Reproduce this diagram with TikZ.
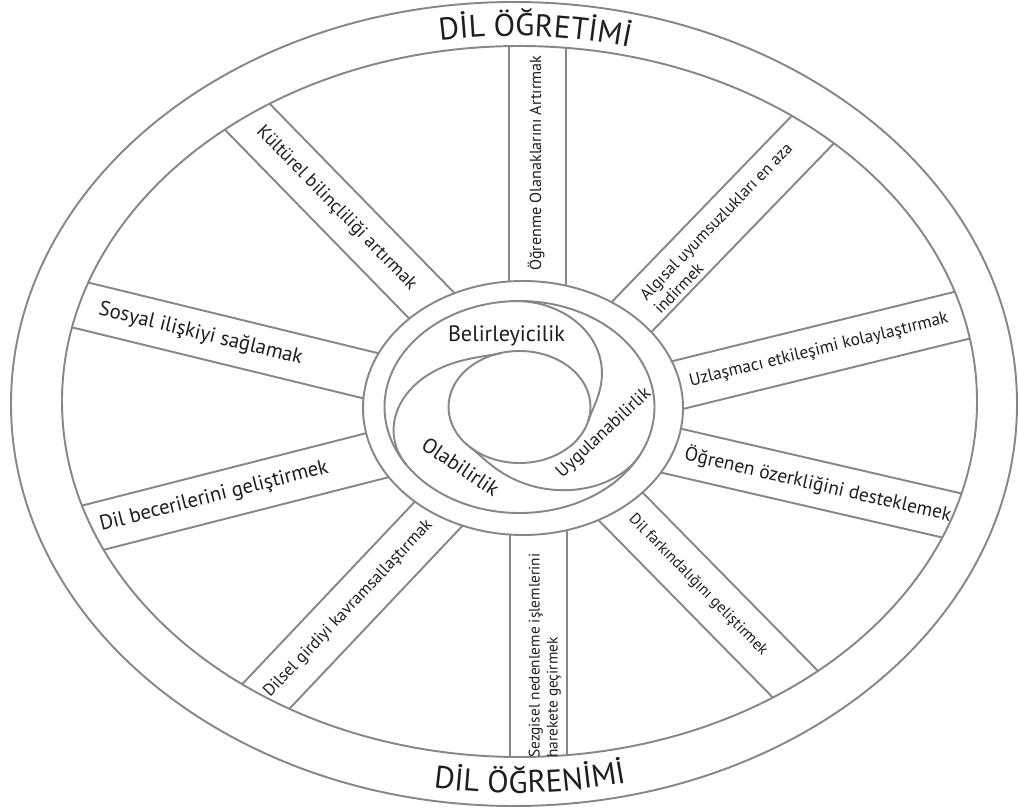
\documentclass[tikz,border=0pt]{standalone}
\usepackage{fontspec}
\setmainfont{PT Sans}
\usetikzlibrary{calc,decorations.text}
\definecolor{wheelgray}{RGB}{135,135,135}
\definecolor{ink}{RGB}{30,30,30}
\newcommand{\ttlfont}{\fontsize{23.5}{28}\selectfont}
\tikzset{
  wheel/.style={draw=wheelgray, line width=1.45pt},
  lbl/.style={inner sep=0pt, text=ink, font=\fontsize{11}{13}\selectfont},
  ttl/.style={decorate, decoration={text along path, text align=center, text color=ink}},
}
\newcommand{\spk}[4]{%
  \draw[wheel] ($(#1,#2)+({-(#3)+90}:#4)$) -- ++({-(#3)}:700);
  \draw[wheel] ($(#1,#2)+({-(#3)-90}:#4)$) -- ++({-(#3)}:700);
}
\begin{document}
\begin{tikzpicture}[x=0.75pt,y=-0.75pt]
\useasboundingbox (0,0) rectangle (1019,809);
% rim
\draw[wheel] (514,404) ellipse [x radius=503, y radius=402];
\draw[wheel] (519.5,401.5) ellipse [x radius=457.5, y radius=355.5];
% spokes
\begin{scope}
\clip (519.5,401.5) ellipse [x radius=457.5, y radius=355.5];
\spk{537.5}{416}{90}{28.5}
\spk{538.5}{416}{-90}{28.5}
\spk{537}{414.8}{45.96}{24.7}
\spk{537}{419.6}{13.8}{24.5}
\spk{537}{419.7}{-13.0}{23.6}
\spk{537}{421.3}{-45.5}{25.4}
\spk{537}{409.7}{-133.4}{25.6}
\spk{537}{414.5}{-165.7}{24.1}
\spk{537}{416.3}{166.3}{23.7}
\spk{537}{413.6}{134.3}{25.1}
\end{scope}
% hub
\draw[wheel, fill=white] (523,408) ellipse [x radius=160, y radius=127];
\draw[wheel] (519.5,407) ellipse [x radius=135, y radius=106];
\draw[wheel] (519.5,407) ellipse [x radius=71, y radius=56];
\foreach \a in {93,-27,213}{
  \draw[wheel] plot[domain=0:1, samples=60, smooth, variable=\u]
   ({519.5+(135-64*(3*\u*\u-2*\u*\u*\u))*cos(\a-108*\u)},
    {407-0.785*(135-64*(3*\u*\u-2*\u*\u*\u))*sin(\a-108*\u)});
}
% hub labels
\node[lbl] (bel) at (506.5,336) {\resizebox{87.75pt}{!}{Belirleyicilik}};
\node[lbl, rotate=-34] (ola) at (460.7,466.7) {\resizebox{66pt}{!}{Olabilirlik}};
\node[lbl, rotate=43] (uyg) at (604,433.3) {\resizebox{91.5pt}{!}{Uygulanabilirlik}};
% spoke labels
\node[lbl, rotate=90, anchor=west] (s1) at (536,271) {\resizebox{161.25pt}{!}{Öğrenme Olanaklarını Artırmak}};
\node[lbl, rotate=46, anchor=west] (s2) at ($(541,419)+({-45.96}:158)$) {\resizebox{158.25pt}{!}{\begin{tabular}{@{}l@{}}Algısal uyumsuzlukları en aza\\indirmek\end{tabular}}};
\node[lbl, rotate=13.8, anchor=west] (s3) at ($(537,419.6)+({-13.8}:157)$) {\resizebox{199.5pt}{!}{Uzlaşmacı etkileşimi kolaylaştırmak}};
\node[lbl, rotate=-13, anchor=west] (s4) at ($(537,419.7)+({13}:151.7)$) {\resizebox{204.75pt}{!}{Öğrenen özerkliğini desteklemek}};
\node[lbl, rotate=-45.5, anchor=west] (s5) at ($(537,421.3)+({45.5}:134)$) {\resizebox{143.25pt}{!}{Dil farkındalığını geliştirmek}};
\node[lbl, rotate=90, anchor=west] (s6) at (545,758) {\resizebox{153pt}{!}{\begin{tabular}{@{}l@{}}Sezgisel nedenleme işlemlerini\\harekete geçirmek\end{tabular}}};
\node[lbl, rotate=46.6, anchor=west] (s7) at ($(537,409.7)+({133.4}:393)$) {\resizebox{177.75pt}{!}{Dilsel girdiyi kavramsallaştırmak}};
\node[lbl, rotate=14.3, anchor=west] (s8) at ($(537,414.5)+({165.7}:451)$) {\resizebox{176.25pt}{!}{Dil becerilerini geliştirmek}};
\node[lbl, rotate=-13.7, anchor=west] (s9) at ($(537,416.3)+({-166.3}:451)$) {\resizebox{156.75pt}{!}{Sosyal ilişkiyi sağlamak}};
\node[lbl, rotate=-45.7, anchor=west] (s10) at ($(537,413.6)+({-134.3}:398)$) {\resizebox{165.75pt}{!}{Kültürel bilinçliliği artırmak}};
% titles along the rim
\path[ttl, decoration={text={|\ttlfont|DİL ÖĞRETİMİ}}]
  plot[domain=0:60, samples=61, variable=\u] ({514+467*cos(117.3-\u)},{404-368*sin(117.3-\u)});
\path[ttl, decoration={text={|\ttlfont|DİL ÖĞRENİMİ}}]
  plot[domain=0:60, samples=61, variable=\u] ({514+486*cos(118-\u)},{404+389*sin(118-\u)});
\end{tikzpicture}
\end{document}
